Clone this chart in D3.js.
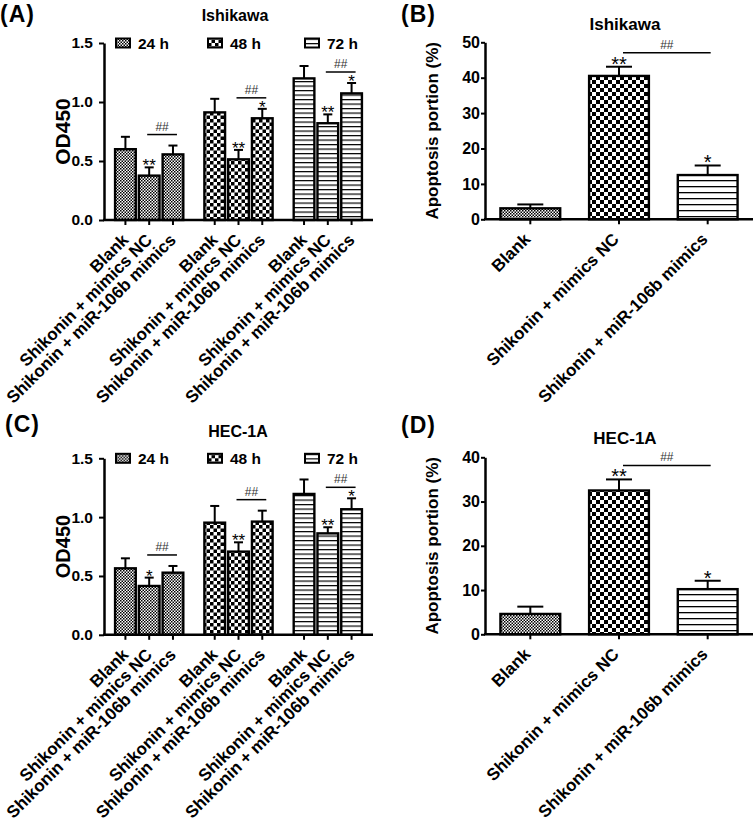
<!DOCTYPE html>
<html>
<head>
<meta charset="utf-8">
<script src="https://cdn.jsdelivr.net/npm/d3@7"></script>
<style>
  body { margin: 0; background: #fff; }
  svg { display: block; }
  text { font-family: "Liberation Sans", Arial, sans-serif; }
</style>
</head>
<body>
<svg id="fig" width="756" height="835"></svg>
<script>
// ---- data ----
const groups = ["Blank", "Shikonin + mimics NC", "Shikonin + miR-106b mimics"];
const times = ["24 h", "48 h", "72 h"];

// OD450, rows = time point, columns = group
const odIshikawa = [[0.60, 0.376, 0.556], [0.912, 0.514, 0.862], [1.20, 0.82, 1.073]];
const odIshikawaErr = [[0.105, 0.07, 0.075], [0.115, 0.08, 0.08], [0.105, 0.075, 0.088]];
const odIshikawaStars = [["", "**", ""], ["", "**", "*"], ["", "**", "*"]];

const odHec = [[0.565, 0.415, 0.528], [0.953, 0.707, 0.962], [1.197, 0.862, 1.067]];
const odHecErr = [[0.085, 0.071, 0.057], [0.142, 0.079, 0.093], [0.123, 0.052, 0.093]];
const odHecStars = [["", "*", ""], ["", "**", ""], ["", "**", "*"]];

// apoptosis portion (%)
const apoIshikawa = [3.1, 40.5, 12.5];
const apoIshikawaErr = [1.1, 2.6, 2.7];
const apoHec = [4.6, 32.5, 10.2];
const apoHecErr = [1.65, 2.5, 1.9];
const apoStars = ["", "**", "*"];

const odTicks = [0, 0.5, 1.0, 1.5];
const apoTicksB = [0, 10, 20, 30, 40, 50];
const apoTicksD = [0, 10, 20, 30, 40];

const svg = d3.select("#fig");
const defs = svg.append("defs");

// fill patterns
function checker(id, s) {
  const p = defs.append("pattern").attr("id", id)
    .attr("patternUnits", "userSpaceOnUse")
    .attr("width", 2 * s).attr("height", 2 * s);
  p.append("rect").attr("width", 2 * s).attr("height", 2 * s).attr("fill", "#fff");
  p.append("rect").attr("width", s).attr("height", s).attr("fill", "#000");
  p.append("rect").attr("x", s).attr("y", s).attr("width", s).attr("height", s).attr("fill", "#000");
}
function stripes(id, s, w) {
  const p = defs.append("pattern").attr("id", id)
    .attr("patternUnits", "userSpaceOnUse")
    .attr("width", 10).attr("height", s);
  p.append("rect").attr("width", 10).attr("height", s).attr("fill", "#fff");
  p.append("rect").attr("width", 10).attr("height", w).attr("fill", "#000");
}
checker("f0s", 1.5); checker("f1s", 3.5); stripes("f2s", 4.5, 1.2);
checker("f0b", 1.5); checker("f1b", 4); stripes("f2b", 6, 1.3);

function styleYAxis(sel, size) {
  sel.select(".domain").attr("stroke-width", 2.5);
  sel.selectAll(".tick line").attr("stroke-width", 2);
  sel.selectAll(".tick text").attr("font-size", size).attr("font-weight", "bold").attr("fill", "#000");
}

function xAxisLine(g, left, right, yb, centers) {
  g.append("line").attr("x1", left - 1).attr("x2", right).attr("y1", yb).attr("y2", yb)
    .attr("stroke", "#000").attr("stroke-width", 2.5);
  g.selectAll("line.xt").data(centers).join("line").attr("class", "xt")
    .attr("x1", d => d).attr("x2", d => d).attr("y1", yb).attr("y2", yb + 5)
    .attr("stroke", "#000").attr("stroke-width", 2);
}

function xLabels(g, data, cx, yb, dx) {
  g.selectAll("text.xl").data(data).join("text").attr("class", "xl")
    .attr("transform", d => `translate(${cx(d) + dx},${yb + 21}) rotate(-45)`)
    .attr("text-anchor", "end")
    .attr("font-size", 17).attr("font-weight", "bold")
    .text(d => d.c);
}

function heads(g, o) {
  g.append("text").attr("x", o.lx).attr("y", o.ly).attr("font-size", 23)
    .attr("font-weight", "bold").attr("letter-spacing", 1).text(o.label);
  g.append("text").attr("x", o.tx).attr("y", o.ty).attr("text-anchor", "middle")
    .attr("font-size", o.tsize).attr("font-weight", "bold").text(o.title);
  g.append("text")
    .attr("transform", `translate(${o.yx},${(o.top + o.bottom) / 2}) rotate(-90)`)
    .attr("text-anchor", "middle").attr("font-size", o.ysize).attr("font-weight", "bold")
    .text(o.ylab);
}

// ---- grouped OD450 panel ----
function odPanel(o) {
  const g = svg.append("g");
  const x = d3.scaleBand().domain(times).range([o.left, o.right])
    .paddingInner(0.236).paddingOuter(0.124);
  const xs = d3.scaleBand().domain(groups).range([0, x.bandwidth()]).paddingInner(0.13);
  const y = d3.scaleLinear().domain([0, 1.5]).range([o.bottom, o.top]);

  const cells = [];
  times.forEach((t, i) => groups.forEach((c, j) =>
    cells.push({ t, c, i, j, v: o.vals[i][j], e: o.errs[i][j], s: o.stars[i][j] })));
  const cx = d => x(d.t) + xs(d.c) + xs.bandwidth() / 2;

  // error bars (drawn first so the bar outline covers the stem base)
  g.selectAll("line.eb").data(cells).join("line").attr("class", "eb")
    .attr("x1", cx).attr("x2", cx).attr("y1", d => y(d.v)).attr("y2", d => y(d.v + d.e))
    .attr("stroke", "#000").attr("stroke-width", 2);
  g.selectAll("line.cap").data(cells).join("line").attr("class", "cap")
    .attr("x1", d => cx(d) - 4.5).attr("x2", d => cx(d) + 4.5)
    .attr("y1", d => y(d.v + d.e)).attr("y2", d => y(d.v + d.e))
    .attr("stroke", "#000").attr("stroke-width", 2);

  g.selectAll("rect.bar").data(cells).join("rect").attr("class", "bar")
    .attr("x", d => x(d.t) + xs(d.c)).attr("y", d => y(d.v))
    .attr("width", xs.bandwidth()).attr("height", d => y(0) - y(d.v))
    .attr("fill", d => `url(#f${d.i}s)`).attr("stroke", "#000").attr("stroke-width", 2.4);

  g.selectAll("text.star").data(cells.filter(d => d.s)).join("text").attr("class", "star")
    .attr("x", cx).attr("y", d => y(d.v + d.e) + 4).attr("text-anchor", "middle")
    .attr("font-size", 17).text(d => d.s);

  // ## brackets between mimics NC and miR-106b mimics
  times.forEach((t, i) => {
    const a = cells.find(d => d.i === i && d.j === 1), b = cells.find(d => d.i === i && d.j === 2);
    const ly = Math.min(y(a.v + a.e), y(b.v + b.e)) - 11;
    const x1 = cx(a) - 2, x2 = cx(b) + 4;
    g.append("line").attr("x1", x1).attr("x2", x2).attr("y1", ly).attr("y2", ly)
      .attr("stroke", "#000").attr("stroke-width", 1.5);
    g.append("text").attr("x", (x1 + x2) / 2).attr("y", ly - 4).attr("text-anchor", "middle")
      .attr("font-size", 12).attr("fill", "#333").text("##");
  });

  const ya = g.append("g").attr("transform", `translate(${o.left},0)`)
    .call(d3.axisLeft(y).tickValues(odTicks).tickFormat(d3.format(".1f"))
      .tickSize(5).tickPadding(6).tickSizeOuter(0));
  styleYAxis(ya, 15.5);
  xAxisLine(g, o.left, o.right, o.bottom, cells.map(cx));
  xLabels(g, cells, cx, o.bottom, 4);

  // legend
  const lg = g.selectAll("g.leg").data(times).join("g").attr("class", "leg")
    .attr("transform", (d, i) => `translate(${o.legX[i]},${o.top})`);
  lg.append("rect").attr("x", 0).attr("y", -4.5).attr("width", 14).attr("height", 9)
    .attr("fill", (d, i) => `url(#f${i}s)`).attr("stroke", "#000").attr("stroke-width", 2);
  lg.append("text").attr("x", 22).attr("y", 5.5).attr("font-size", 15.5)
    .attr("font-weight", "bold").text(d => d);

  heads(g, o);
}

// ---- simple apoptosis panel ----
function apoPanel(o) {
  const g = svg.append("g");
  const x = d3.scaleBand().domain(groups).range([o.left, o.right])
    .paddingInner(0.326).paddingOuter(0.174);
  const y = d3.scaleLinear().domain([0, o.max]).range([o.bottom, o.top]);
  const cells = groups.map((c, j) => ({ c, j, v: o.vals[j], e: o.errs[j], s: apoStars[j] }));
  const cx = d => x(d.c) + x.bandwidth() / 2;

  g.selectAll("line.eb").data(cells).join("line").attr("class", "eb")
    .attr("x1", cx).attr("x2", cx).attr("y1", d => y(d.v)).attr("y2", d => y(d.v + d.e))
    .attr("stroke", "#000").attr("stroke-width", 2);
  g.selectAll("line.cap").data(cells).join("line").attr("class", "cap")
    .attr("x1", d => cx(d) - 13).attr("x2", d => cx(d) + 13)
    .attr("y1", d => y(d.v + d.e)).attr("y2", d => y(d.v + d.e))
    .attr("stroke", "#000").attr("stroke-width", 2);

  g.selectAll("rect.bar").data(cells).join("rect").attr("class", "bar")
    .attr("x", d => x(d.c)).attr("y", d => y(d.v))
    .attr("width", x.bandwidth()).attr("height", d => y(0) - y(d.v))
    .attr("fill", d => `url(#f${d.j}b)`).attr("stroke", "#000").attr("stroke-width", 2.4);

  g.selectAll("text.star").data(cells.filter(d => d.s)).join("text").attr("class", "star")
    .attr("x", cx).attr("y", d => y(d.v + d.e) + 4).attr("text-anchor", "middle")
    .attr("font-size", 20).text(d => d.s);

  const a = cells[1], b = cells[2];
  const ly = y(a.v + a.e) - 14;
  const x1 = cx(a) + 4, x2 = cx(b) + 3;
  g.append("line").attr("x1", x1).attr("x2", x2).attr("y1", ly).attr("y2", ly)
    .attr("stroke", "#000").attr("stroke-width", 1.5);
  g.append("text").attr("x", (x1 + x2) / 2).attr("y", ly - 4).attr("text-anchor", "middle")
    .attr("font-size", 12).attr("fill", "#333").text("##");

  const ya = g.append("g").attr("transform", `translate(${o.left},0)`)
    .call(d3.axisLeft(y).tickValues(o.ticks).tickFormat(d3.format("d"))
      .tickSize(4).tickPadding(1).tickSizeOuter(0));
  styleYAxis(ya, 16);
  xAxisLine(g, o.left, o.right, o.bottom, cells.map(cx));
  xLabels(g, cells, cx, o.bottom, 1);

  heads(g, o);
}

odPanel({
  vals: odIshikawa, errs: odIshikawaErr, stars: odIshikawaStars,
  left: 104, right: 373, top: 43, bottom: 220, legX: [116, 208, 305],
  label: "(A)", lx: 0, ly: 22, title: "Ishikawa", tx: 235, ty: 21, tsize: 16,
  ylab: "OD450", yx: 70, ysize: 21
});
apoPanel({
  vals: apoIshikawa, errs: apoIshikawaErr, max: 50, ticks: apoTicksB,
  left: 485, right: 753, top: 42.3, bottom: 219.3,
  label: "(B)", lx: 401, ly: 22, title: "Ishikawa", tx: 625, ty: 29.5, tsize: 17,
  ylab: "Apoptosis portion (%)", yx: 438, ysize: 17
});
odPanel({
  vals: odHec, errs: odHecErr, stars: odHecStars,
  left: 104, right: 373, top: 458.3, bottom: 634.8, legX: [116, 208, 305],
  label: "(C)", lx: 5, ly: 432, title: "HEC-1A", tx: 238, ty: 436.5, tsize: 16,
  ylab: "OD450", yx: 70, ysize: 20
});
apoPanel({
  vals: apoHec, errs: apoHecErr, max: 40, ticks: apoTicksD,
  left: 485, right: 753, top: 457.3, bottom: 634.3,
  label: "(D)", lx: 401, ly: 433, title: "HEC-1A", tx: 625, ty: 444, tsize: 17,
  ylab: "Apoptosis portion (%)", yx: 438, ysize: 17
});
</script>
</body>
</html>
